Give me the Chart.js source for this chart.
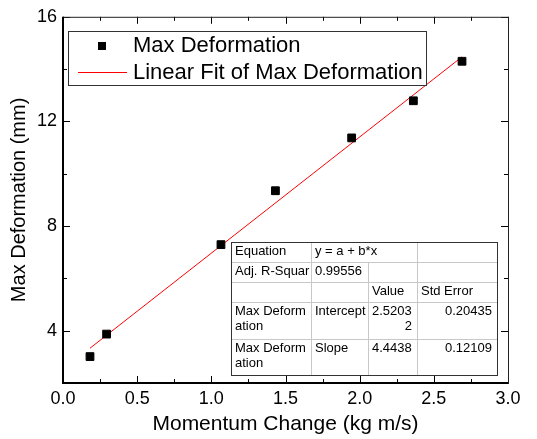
<!DOCTYPE html>
<html>
<head>
<meta charset="utf-8">
<script src="https://cdn.jsdelivr.net/npm/chart.js@4"></script>
<style>
  html, body { margin: 0; padding: 0; background: #fff; }
  #wrap { width: 537px; height: 439px; position: relative; }
</style>
</head>
<body>
<div id="wrap"><canvas id="chart" width="537" height="439"></canvas></div>
<script>
// data
const momentum = [0.182, 0.294, 1.065, 1.432, 1.946, 2.362, 2.690];
const deformation = [3.01, 3.87, 7.29, 9.35, 11.37, 12.79, 14.30];
const fitX = [0.182, 2.690];
const fitY = [3.33, 14.47];
const xTicks = [0, 0.5, 1.0, 1.5, 2.0, 2.5, 3.0];
const yTicks = [4, 8, 12, 16];
const xMinor = [0.25, 0.75, 1.25, 1.75, 2.25, 2.75];
const yMinor = [2, 6, 10, 14];

// fit results table (Origin style)
const tableRows = [
  ['Equation', 'y = a + b*x', '', ''],
  ['Adj. R-Squar', '0.99556', '', ''],
  ['', '', 'Value', 'Std Error'],
  [['Max Deform', 'ation'], 'Intercept', ['2.5203', '2'], '0.20435'],
  [['Max Deform', 'ation'], 'Slope', '4.4438', '0.12109']
];

const FONT = '"Liberation Sans", Arial, Helvetica, sans-serif';

// box, inward ticks, legend and the fit table
const framePlugin = {
  id: 'frame',
  afterDraw(chart) {
    const ctx = chart.ctx;
    const a = chart.chartArea;
    const xs = chart.scales.x, ys = chart.scales.y;
    ctx.save();

    // ticks on all four sides, pointing in
    ctx.strokeStyle = '#000';
    ctx.lineWidth = 1;
    const tick = (vals, len) => {
      vals.forEach(v => {
        const px = Math.round(xs.getPixelForValue(v)) + 0.5;
        ctx.beginPath();
        ctx.moveTo(px, a.bottom); ctx.lineTo(px, a.bottom - len);
        ctx.moveTo(px, a.top); ctx.lineTo(px, a.top + len);
        ctx.stroke();
      });
    };
    const tickY = (vals, len) => {
      vals.forEach(v => {
        const py = Math.round(ys.getPixelForValue(v)) + 0.5;
        ctx.beginPath();
        ctx.moveTo(a.left, py); ctx.lineTo(a.left + len, py);
        ctx.moveTo(a.right, py); ctx.lineTo(a.right - len, py);
        ctx.stroke();
      });
    };
    tick(xTicks, 7); tick(xMinor, 4);
    tickY(yTicks, 7); tickY(yMinor, 4);

    // frame
    ctx.lineWidth = 1;
    ctx.strokeStyle = '#222';
    ctx.strokeRect(a.left + 0.5, a.top + 0.5, a.right - a.left, a.bottom - a.top);
    ctx.lineWidth = 2;
    ctx.strokeStyle = '#000';
    ctx.beginPath();
    ctx.moveTo(a.left, a.top); ctx.lineTo(a.left, a.bottom); ctx.lineTo(a.right, a.bottom);
    ctx.stroke();

    // legend
    ctx.fillStyle = '#fff';
    ctx.fillRect(68, 31, 359, 54);
    ctx.lineWidth = 1;
    ctx.strokeStyle = '#333';
    ctx.strokeRect(68.5, 31.5, 358, 54);
    ctx.fillStyle = '#000';
    ctx.fillRect(98, 42, 8, 8);
    ctx.strokeStyle = '#ff0000';
    ctx.beginPath(); ctx.moveTo(78, 72.5); ctx.lineTo(127, 72.5); ctx.stroke();
    ctx.font = '22px ' + FONT;
    ctx.textBaseline = 'middle';
    ctx.textAlign = 'left';
    ctx.fillText(chart.data.datasets[0].label, 133, 46);
    ctx.fillText(chart.data.datasets[1].label, 133, 73);

    // table
    const cols = [231, 311, 368, 417, 497];
    const rows = [242, 262, 282, 302, 339, 375];
    ctx.fillStyle = '#fff';
    ctx.fillRect(cols[0], rows[0], cols[4] - cols[0], rows[5] - rows[0]);
    ctx.strokeStyle = '#c8c8c8';
    ctx.lineWidth = 1;
    for (let r = 1; r < 5; r++) {
      ctx.beginPath(); ctx.moveTo(cols[0], rows[r] + 0.5); ctx.lineTo(cols[4], rows[r] + 0.5); ctx.stroke();
    }
    for (let c = 1; c < 4; c++) {
      const startRow = c === 2 ? 1 : 0;
      ctx.beginPath(); ctx.moveTo(cols[c] + 0.5, rows[startRow]); ctx.lineTo(cols[c] + 0.5, rows[5]); ctx.stroke();
    }
    ctx.strokeStyle = '#333';
    ctx.strokeRect(cols[0] + 0.5, rows[0] + 0.5, cols[4] - cols[0], rows[5] - rows[0]);

    ctx.font = '13px ' + FONT;
    ctx.fillStyle = '#000';
    tableRows.forEach((row, r) => {
      row.forEach((cell, c) => {
        const lines = Array.isArray(cell) ? cell : [cell];
        lines.forEach((txt, i) => {
          if (!txt) return;
          const y = rows[r] + 9 + i * 15;
          const rightAlign = (c === 3 && r >= 3) || (c === 2 && r === 3 && i === 1);
          if (rightAlign) {
            ctx.textAlign = 'right';
            ctx.fillText(txt, cols[c + 1] - 5, y);
          } else {
            ctx.textAlign = 'left';
            ctx.fillText(txt, cols[c] + 4, y);
          }
        });
      });
    });
    ctx.restore();
  }
};

new Chart(document.getElementById('chart'), {
  type: 'scatter',
  data: {
    datasets: [
      {
        label: 'Max Deformation',
        data: momentum.map((x, i) => ({ x: x, y: deformation[i] })),
        pointStyle: 'rect',
        pointRadius: 5.5,
        backgroundColor: '#000',
        borderColor: '#000',
        borderWidth: 1,
        order: 1
      },
      {
        label: 'Linear Fit of Max Deformation',
        type: 'line',
        data: fitX.map((x, i) => ({ x: x, y: fitY[i] })),
        borderColor: '#ff0000',
        borderWidth: 1,
        pointRadius: 0,
        fill: false,
        order: 2
      }
    ]
  },
  options: {
    responsive: false,
    animation: false,
    layout: { padding: { top: 15, right: 29, left: 0, bottom: 0 } },
    plugins: {
      legend: { display: false },
      tooltip: { enabled: false }
    },
    scales: {
      x: {
        type: 'linear',
        min: 0,
        max: 3,
        afterBuildTicks: s => { s.ticks = xTicks.map(v => ({ value: v })); },
        afterFit: s => { s.height = 56; },
        grid: { display: false, drawTicks: false },
        border: { display: false },
        ticks: {
          color: '#000',
          padding: 5,
          font: { family: FONT, size: 18 },
          callback: v => v.toFixed(1)
        },
        title: {
          display: true,
          text: 'Momentum Change (kg m/s)',
          color: '#000',
          font: { family: FONT, size: 21 },
          padding: { top: 0, bottom: 2 }
        }
      },
      y: {
        type: 'linear',
        min: 2,
        max: 16,
        afterBuildTicks: s => { s.ticks = yTicks.map(v => ({ value: v })); },
        afterFit: s => { s.width = 63; },
        grid: { display: false, drawTicks: false },
        border: { display: false },
        ticks: {
          color: '#000',
          padding: 6,
          font: { family: FONT, size: 18 }
        },
        title: {
          display: true,
          text: 'Max Deformation (mm)',
          color: '#000',
          font: { family: FONT, size: 20 },
          padding: { top: 7, bottom: 0 }
        }
      }
    }
  },
  plugins: [framePlugin]
});
</script>
</body>
</html>
